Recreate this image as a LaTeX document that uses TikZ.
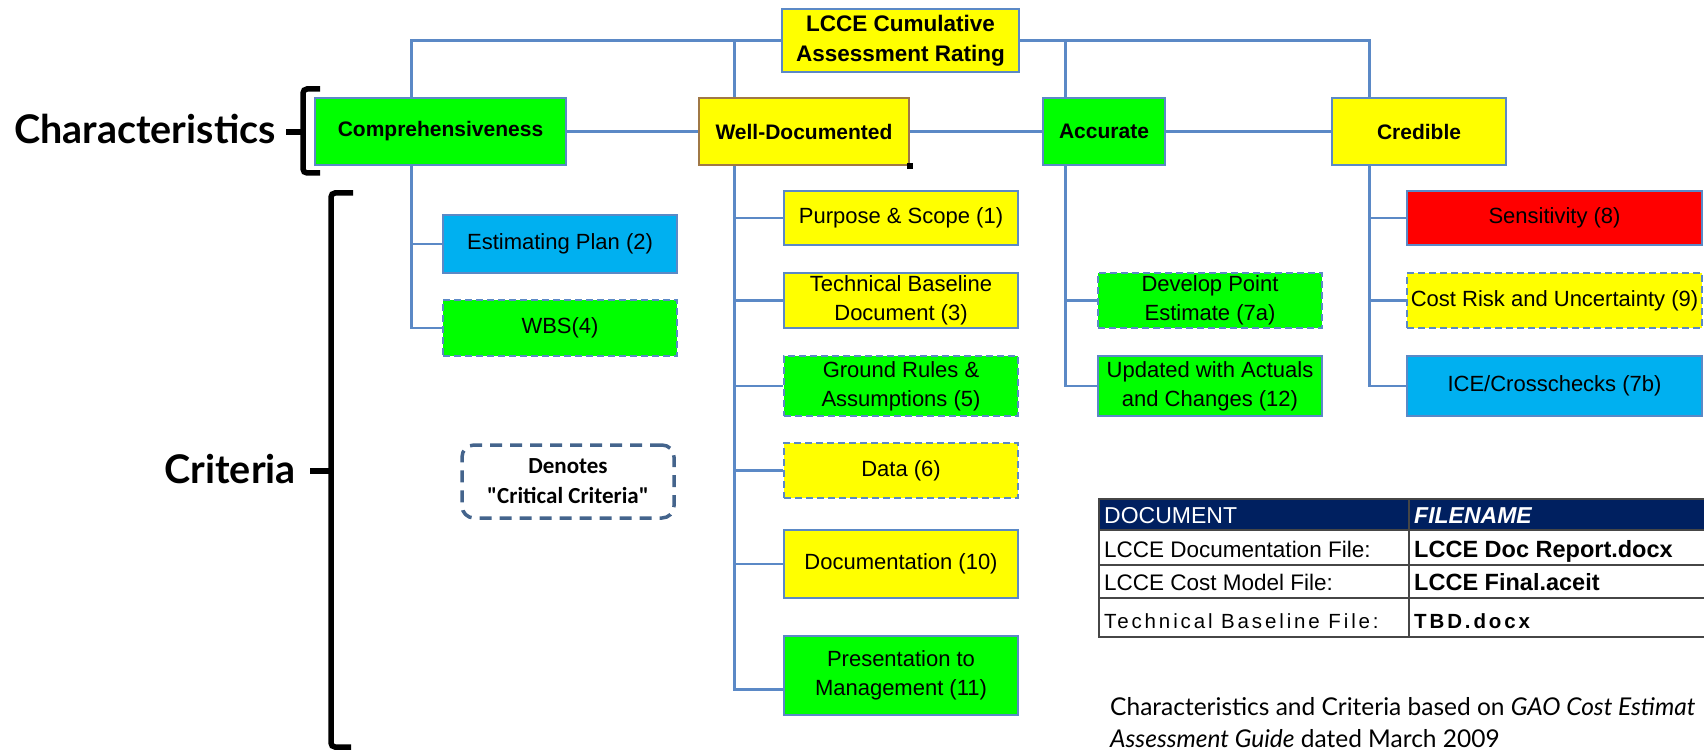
\documentclass[tikz,border=0pt]{standalone}
\usepackage{fontspec}
\setmainfont{Liberation Sans}
\newfontfamily\gillfont{Lato}
\newfontfamily\calfont{Carlito}
\newfontfamily\spacedfont[LetterSpace=14]{Liberation Sans}
\usepackage{xcolor}
\usepackage{tikz}
\usetikzlibrary{
	calc,
	positioning
}

\definecolor{linkblue}{RGB}{91,137,198}
\definecolor{fillyellow}{RGB}{255,255,0}
\definecolor{fillgreen}{RGB}{0,255,0}
\definecolor{fillblue}{RGB}{0,176,240}
\definecolor{fillred}{RGB}{255,0,0}
\definecolor{navyhead}{RGB}{0,32,96}
\definecolor{slateblue}{RGB}{68,100,140}
\definecolor{tanline}{RGB}{160,120,70}
\definecolor{gridgray}{RGB}{70,70,70}

\begin{document}
\begin{tikzpicture}[x=1pt, y=-1pt,
		conn/.style={draw=linkblue, line width=2.8pt},
		critbox/.style={draw=linkblue, line width=2.8pt, align=center, inner sep=0pt,
			font=\fontsize{22}{29}\selectfont},
		charbox/.style={critbox, font=\bfseries\fontsize{21}{30}\selectfont, minimum height=67pt},
		critical/.style={dash pattern=on 7pt off 4pt},
		sidetext/.style={font=\gillfont\bfseries\fontsize{39.5}{42}\selectfont, inner sep=0pt},
		brace/.style={line width=5.5pt, rounded corners=4pt},
		celltext/.style={anchor=base west, inner sep=0pt, font=\fontsize{22.5}{26}\selectfont}
	]
		\useasboundingbox (0,0) rectangle (1704,751);
		
		\node[charbox, fill=fillyellow, minimum width=237pt, minimum height=63pt,
			font=\bfseries\fontsize{22.5}{30}\selectfont] (rating) at (900.5,40.5) {LCCE Cumulative\\Assessment Rating};
		\node[charbox, fill=fillgreen, minimum width=251pt] (comp) at (440.5,131.5) {Comprehensiveness};
		\node[charbox, fill=fillyellow, draw=tanline, minimum width=210pt] (welldoc) at (804,131.5) {Well-Documented};
		\node[charbox, fill=fillgreen, minimum width=122pt] (accurate) at (1104,131.5) {Accurate};
		\node[charbox, fill=fillyellow, minimum width=174pt] (credible) at (1419,131.5) {Credible};
		\fill[black] ([shift={(-3pt,-3pt)}]welldoc.south east) rectangle +(6pt,6pt);
		
		\node[critbox, fill=fillblue, minimum width=234pt, minimum height=58pt] (estplan) at (560,244) {Estimating Plan (2)};
		\node[critbox, critical, fill=fillgreen, minimum width=234pt, minimum height=56pt] (wbs) at (560,328) {WBS(4)};
		
		\node[critbox, fill=fillyellow, minimum width=234pt, minimum height=54pt] (purpose) at (901,218) {Purpose \& Scope (1)};
		\node[critbox, fill=fillyellow, minimum width=234pt, minimum height=55pt] (techbase) at (901,300.5) {Technical Baseline\\Document (3)};
		\node[critbox, critical, fill=fillgreen, minimum width=234pt, minimum height=60pt] (groundrules) at (901,386) {Ground Rules \&\\Assumptions (5)};
		\node[critbox, critical, fill=fillyellow, minimum width=234pt, minimum height=55pt] (data) at (901,470.5) {Data (6)};
		\node[critbox, fill=fillyellow, minimum width=234pt, minimum height=68pt] (documentation) at (901,564) {Documentation (10)};
		\node[critbox, fill=fillgreen, minimum width=234pt, minimum height=79pt] (presentation) at (901,675.5) {Presentation to\\Management (11)};
		
		\node[critbox, critical, fill=fillgreen, minimum width=224pt, minimum height=55pt] (pointest) at (1210,300.5) {Develop Point\\Estimate (7a)};
		\node[critbox, fill=fillgreen, minimum width=224pt, minimum height=60pt] (actuals) at (1210,386) {Updated with Actuals\\and Changes (12)};
		
		\node[critbox, fill=fillred, minimum width=295pt, minimum height=54pt] (sensitivity) at (1554.5,218) {Sensitivity (8)};
		\node[critbox, critical, fill=fillyellow, minimum width=295pt, minimum height=55pt] (costrisk) at (1554.5,300.5) {Cost Risk and Uncertainty (9)};
		\node[critbox, fill=fillblue, minimum width=295pt, minimum height=60pt] (crosscheck) at (1554.5,386) {ICE/Crosschecks (7b)};
		
		\draw[conn] (rating.west) -| ([xshift=98pt]comp.north west);
		\draw[conn] (rating.west) -| ([xshift=37pt]welldoc.north west);
		\draw[conn] (rating.east) -| ([xshift=24pt]accurate.north west);
		\draw[conn] (rating.east) -| ([xshift=39pt]credible.north west);
		\draw[conn] (comp) -- (welldoc);
		\draw[conn] (welldoc) -- (accurate);
		\draw[conn] (accurate) -- (credible);
		
		\foreach \n in {estplan,wbs}
			\draw[conn] ([xshift=98pt]comp.south west) |- (\n.west);
		\foreach \n in {purpose,techbase,groundrules,data,documentation}
			\draw[conn] ([xshift=37pt]welldoc.south west) |- (\n.west);
		\draw[conn] ([xshift=37pt]welldoc.south west) |- ([yshift=-14pt]presentation.west);
		\foreach \n in {pointest,actuals}
			\draw[conn] ([xshift=24pt]accurate.south west) |- (\n.west);
		\foreach \n in {sensitivity,costrisk,crosscheck}
			\draw[conn] ([xshift=39pt]credible.south west) |- (\n.west);
		
		\node[draw=slateblue, line width=3.5pt, dash pattern=on 12pt off 8pt, rounded corners=12pt,
			minimum width=212pt, minimum height=73pt, align=center,
			font=\calfont\bfseries\fontsize{23}{30}\selectfont] (legend) at (568,481.5) {Denotes\\"Critical Criteria"};
		
		\node[sidetext, anchor=base east] (charlabel) at (276,144) {Characteristics};
		\node[sidetext, anchor=base east] (critlabel) at (296,483) {Criteria};
		\draw[brace] (320,89) -- (303,89) -- (303,173) -- (320,173);
		\draw[brace] (303,132) -- (286,132);
		\draw[brace] (353,193) -- (331,193) -- (331,747) -- (351,747);
		\draw[brace] (331,471) -- (310,471);
		
		\fill[navyhead] (1099,499) rectangle (1706,530);
		\draw[gridgray, line width=1.5pt] (1706,499) -- (1099,499) -- (1099,637) -- (1706,637);
		\foreach \y in {530,565,598}
			\draw[gridgray, line width=1.5pt] (1099,\y) -- (1706,\y);
		\draw[gridgray, line width=1.5pt] (1409,499) -- (1409,637);
		\node[celltext, text=white, font=\fontsize{23}{26}\selectfont] (dochead) at (1104,523) {DOCUMENT};
		\node[celltext, text=white, font=\bfseries\itshape\fontsize{23}{26}\selectfont] (filehead) at (1414,523) {FILENAME};
		\node[celltext] (docfile) at (1104,557) {LCCE Documentation File:};
		\node[celltext, font=\bfseries\fontsize{23.5}{26}\selectfont] (docname) at (1414,557) {LCCE Doc Report.docx};
		\node[celltext] (modelfile) at (1104,590) {LCCE Cost Model File:};
		\node[celltext, font=\bfseries\fontsize{23.5}{26}\selectfont] (modelname) at (1414,590) {LCCE Final.aceit};
		\node[celltext, font=\spacedfont\fontsize{20.5}{22}\selectfont] (basefile) at (1104,628) {Technical Baseline File:};
		\node[celltext, font=\spacedfont\bfseries\fontsize{20.5}{22}\selectfont] (basename) at (1414,628) {TBD.docx};
		
		\node[anchor=base west, inner sep=0pt, font=\gillfont\fontsize{24.5}{32}\selectfont] (source1) at (1110,715) {Characteristics and Criteria based on \textit{GAO Cost Estimat}};
		\node[anchor=base west, inner sep=0pt, font=\gillfont\fontsize{24.5}{32}\selectfont] (source2) at (1110,747) {\textit{Assessment Guide} dated March 2009};
	\end{tikzpicture}
\end{document}
